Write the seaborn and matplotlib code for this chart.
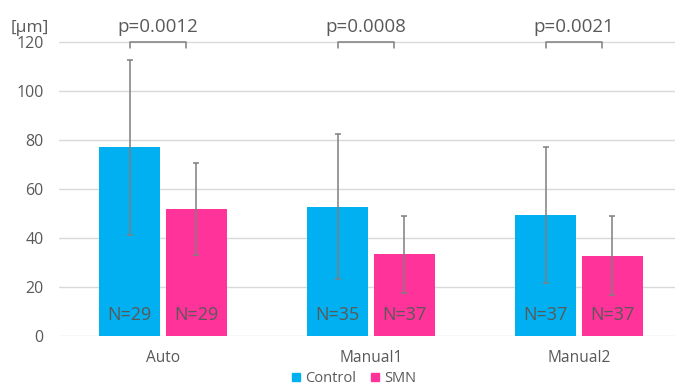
import matplotlib
matplotlib.use("Agg")
import matplotlib.pyplot as plt
from matplotlib.lines import Line2D
import seaborn as sns
import pandas as pd

# Measurements: group means and standard deviations
methods = ["Auto", "Manual1", "Manual2"]
groups = ["Control", "SMN"]
control_mean = [77.0, 52.8, 49.4]
smn_mean = [51.8, 33.3, 32.8]
control_sd = [35.8, 29.6, 27.6]
smn_sd = [18.8, 15.7, 16.1]
control_n = [29, 35, 37]
smn_n = [29, 37, 37]
p_values = ["p=0.0012", "p=0.0008", "p=0.0021"]
y_ticks = [0, 20, 40, 60, 80, 100, 120]
unit_label = "[μm]"

colors = {"Control": "#00B0F0", "SMN": "#FF3399"}
text_color = "#595959"

df = pd.DataFrame({
    "method": methods * 2,
    "group": ["Control"] * 3 + ["SMN"] * 3,
    "mean": control_mean + smn_mean,
    "sd": control_sd + smn_sd,
    "n": control_n + smn_n,
})

sns.set_theme(style="white")
plt.rcParams["font.family"] = ["Open Sans", "DejaVu Sans"]

fig = plt.figure(figsize=(6.75, 3.89), dpi=100)
ax = fig.add_axes([59 / 675, 53 / 389, 624 / 675, 318.5 / 389])

sns.barplot(data=df, x="method", y="mean", hue="group", order=methods,
            hue_order=groups, palette=colors, saturation=1, errorbar=None,
            width=0.64, gap=0.078, linewidth=0, ax=ax, legend=False)

# error bars and N labels, positioned from the drawn bars
for i, g in enumerate(groups):
    sub = df[df["group"] == g].set_index("method").loc[methods]
    bars = ax.containers[i]
    for bar, (_, row) in zip(bars, sub.iterrows()):
        cx = bar.get_x() + bar.get_width() / 2
        ax.errorbar(cx, row["mean"], yerr=row["sd"], color="#7F7F7F",
                    lw=1.1, capsize=2.4, capthick=1.1, zorder=3)
        ax.text(cx, 6.5, f"N={row['n']}", ha="center", va="baseline",
                fontsize=13, color=text_color, zorder=4)

# significance brackets
for k, p in enumerate(p_values):
    xc = k - 0.025
    x0, x1 = xc - 0.135, xc + 0.135
    ax.plot([x0, x0, x1, x1], [117.6, 120.1, 120.1, 117.6],
            color="#7F7F7F", lw=1.1, zorder=3)
    ax.text(xc, 124.2, p, ha="center", va="baseline", fontsize=13.5,
            color=text_color)

ax.set_ylim(0, 130)
ax.set_xlim(-0.5, 2.5)
ax.set_yticks(y_ticks)
ax.yaxis.grid(True, color="#D9D9D9", lw=1)
ax.set_axisbelow(True)
for s in ax.spines.values():
    s.set_visible(False)
ax.tick_params(axis="both", length=0, labelcolor=text_color)
ax.tick_params(axis="y", pad=11, labelsize=11.5)
ax.tick_params(axis="x", pad=10, labelsize=11.2)
ax.set_xlabel("")
ax.set_ylabel("")

fig.text(30 / 675, (389 - 32) / 389, unit_label, ha="center", va="baseline",
         fontsize=12.5, color=text_color)

handles = [Line2D([], [], marker="s", ls="", markersize=6,
                  markerfacecolor=colors[g], markeredgecolor=colors[g])
           for g in groups]
fig.legend(handles, groups, loc="center", bbox_to_anchor=(354 / 675, 10 / 389),
           ncol=2, frameon=False, fontsize=10.5, handlelength=0.6,
           handletextpad=0.3, columnspacing=1.0, labelcolor=text_color,
           borderpad=0.1)

fig.savefig("out.png", dpi=100)
